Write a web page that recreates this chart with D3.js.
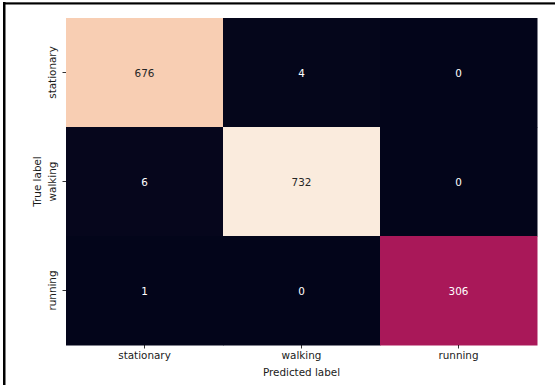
<!DOCTYPE html>
<html>
<head>
<meta charset="utf-8">
<script src="https://cdn.jsdelivr.net/npm/d3@7"></script>
<style>
  html, body { margin: 0; padding: 0; background: #fff; }
  svg { display: block; }
  text { font-family: "DejaVu Sans", sans-serif; }
</style>
</head>
<body>
<svg id="chart" width="555" height="385"></svg>
<script>
// Confusion matrix: rows = true label, columns = predicted label
const trueLabels = ["stationary", "walking", "running"];
const predictedLabels = ["stationary", "walking", "running"];
const rowStationary = [676, 4, 0];
const rowWalking = [6, 732, 0];
const rowRunning = [1, 0, 306];
const matrix = [rowStationary, rowWalking, rowRunning];

const W = 555, H = 385;
const margin = { left: 66, top: 18, right: 18, bottom: 40 };
const svg = d3.select("#chart");

// frame lines along the top and left edge
svg.append("rect").attr("x", 3).attr("y", 2).attr("width", W - 3).attr("height", 1).attr("fill", "#555");
svg.append("rect").attr("x", 3).attr("y", 3).attr("width", W - 3).attr("height", 1.5).attr("fill", "#000");
svg.append("rect").attr("x", 3).attr("y", 2).attr("width", 2.5).attr("height", H - 2).attr("fill", "#000");

const x = d3.scaleBand().domain(predictedLabels).range([66, 537]).padding(0);
const y = d3.scaleBand().domain(trueLabels).range([18, 345]).padding(0);

// rocket colour map stops
const rocketStops = ["#03051a", "#35193e", "#701f57", "#ad1759", "#e13342", "#f37651", "#f6b48f", "#faebdd"];
const rocket = d3.scaleLinear()
  .domain(rocketStops.map((_, i) => i / (rocketStops.length - 1)))
  .range(rocketStops)
  .interpolate(d3.interpolateRgb);
const vmax = d3.max(matrix.flat());
const vmin = d3.min(matrix.flat());
const color = v => rocket((v - vmin) / (vmax - vmin));

const cells = [];
matrix.forEach((row, i) => row.forEach((v, j) => cells.push({ t: trueLabels[i], p: predictedLabels[j], v })));

const g = svg.append("g");
g.selectAll("rect.cell").data(cells).join("rect")
  .attr("class", "cell")
  .attr("x", d => x(d.p))
  .attr("y", d => y(d.t))
  .attr("width", x.bandwidth() + 0.5)
  .attr("height", y.bandwidth() + 0.5)
  .attr("fill", d => color(d.v));

g.selectAll("text.ann").data(cells).join("text")
  .attr("class", "ann")
  .attr("x", d => x(d.p) + x.bandwidth() / 2)
  .attr("y", d => y(d.t) + y.bandwidth() / 2)
  .attr("text-anchor", "middle")
  .attr("dominant-baseline", "central")
  .attr("font-size", "10.4px")
  .attr("fill", d => d3.hsl(color(d.v)).l > 0.6 ? "#262626" : "#ffffff")
  .text(d => d.v);

// axes
const xAxis = svg.append("g").attr("transform", "translate(0,345)")
  .call(d3.axisBottom(x).tickSize(3.5).tickPadding(3.5));
const yAxis = svg.append("g").attr("transform", "translate(66,0)")
  .call(d3.axisLeft(y).tickSize(3.5).tickPadding(3.5));
[xAxis, yAxis].forEach(a => {
  a.select(".domain").remove();
  a.selectAll(".tick line").attr("stroke", "#000").attr("stroke-width", 0.8);
  a.selectAll(".tick text").attr("fill", "#1a1a1a").attr("font-size", "10.4px")
    .attr("font-family", "DejaVu Sans, sans-serif");
});
yAxis.selectAll(".tick text")
  .attr("transform", "rotate(-90)")
  .attr("x", 0).attr("y", -14)
  .attr("dy", "0")
  .attr("text-anchor", "middle")
  .attr("dominant-baseline", "central");

svg.append("text")
  .attr("x", (66 + 537) / 2).attr("y", 372)
  .attr("text-anchor", "middle").attr("dominant-baseline", "central")
  .attr("font-size", "10.4px").attr("fill", "#1a1a1a")
  .text("Predicted label");

svg.append("text")
  .attr("transform", `translate(37,${(18 + 345) / 2}) rotate(-90)`)
  .attr("text-anchor", "middle").attr("dominant-baseline", "central")
  .attr("font-size", "10.4px").attr("fill", "#1a1a1a")
  .text("True label");
</script>
</body>
</html>
